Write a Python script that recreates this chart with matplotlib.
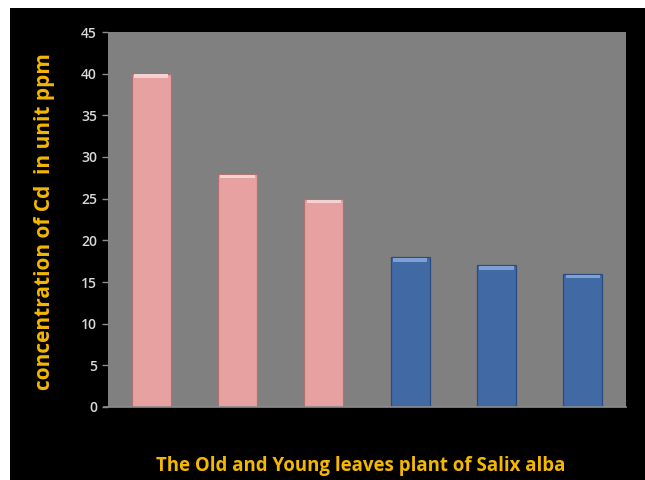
import matplotlib
matplotlib.use("Agg")
import matplotlib.pyplot as plt
from matplotlib.patches import Rectangle

# data
samples = ["O1", "O2", "O3", "Y1", "Y2", "Y3"]
cd_ppm = [40, 28, 25, 18, 17, 16]
bar_colors = ["#E8A1A1", "#E8A1A1", "#E8A1A1", "#4169A4", "#4169A4", "#4169A4"]
edge_colors = ["#B07272", "#B07272", "#B07272", "#2B4C7E", "#2B4C7E", "#2B4C7E"]
top_colors = ["#F4D2D2", "#F4D2D2", "#F4D2D2", "#7FA0D2", "#7FA0D2", "#7FA0D2"]
y_ticks = [0, 5, 10, 15, 20, 25, 30, 35, 40, 45]

gold = "#F5B800"
font = ["Open Sans", "DejaVu Sans"]

fig = plt.figure(figsize=(6.45, 4.8), dpi=100, facecolor="white")
# black panel with thin white strip on top and left
bg = Rectangle((10 / 645, -0.01), 1.0, 1.01 - 8 / 480, transform=fig.transFigure,
               facecolor="black", edgecolor="none", zorder=-10)
fig.add_artist(bg)

ax = fig.add_axes([108 / 645, 1 - 407 / 480, 518 / 645, 375 / 480])
ax.set_zorder(1)
ax.set_facecolor("#808080")

x = list(range(len(samples)))
ax.bar(x, cd_ppm, width=0.45, color=bar_colors, edgecolor=edge_colors, linewidth=0.9, zorder=2)
# bevel highlight at the top of each bar
for xi, v, c in zip(x, cd_ppm, top_colors):
    ax.bar(xi, 0.45, bottom=v - 0.55, width=0.40, color=c, edgecolor="none", zorder=3)

ax.set_xlim(-0.5, len(samples) - 0.5)
ax.set_ylim(0, 45)
ax.set_yticks(y_ticks)
ax.set_xticks([])
for lab in ax.get_yticklabels():
    lab.set_family(font)
    lab.set_fontweight("semibold")
ax.tick_params(axis="y", colors="#8C8C8C", labelcolor="#D9D9D9", labelsize=10,
               length=4, width=1, pad=4)

for s in ["top", "right", "left"]:
    ax.spines[s].set_visible(False)
ax.spines["bottom"].set_color("#8C8C8C")
ax.spines["bottom"].set_linewidth(1.2)
ax.spines["bottom"].set_bounds(-0.55, len(samples) - 0.5)

fig.text(45 / 645, 1 - 222 / 480, "concentration of Cd  in unit ppm", rotation=90,
         color=gold, fontsize=15, fontweight="bold", family=font,
         ha="center", va="center", zorder=5)
fig.text(361 / 645, 1 - 466 / 480, "The Old and Young leaves plant of Salix alba",
         color=gold, fontsize=13.4, fontweight="bold", family=font,
         ha="center", va="center", zorder=5)

plt.savefig("out.png", dpi=100, facecolor=fig.get_facecolor())
